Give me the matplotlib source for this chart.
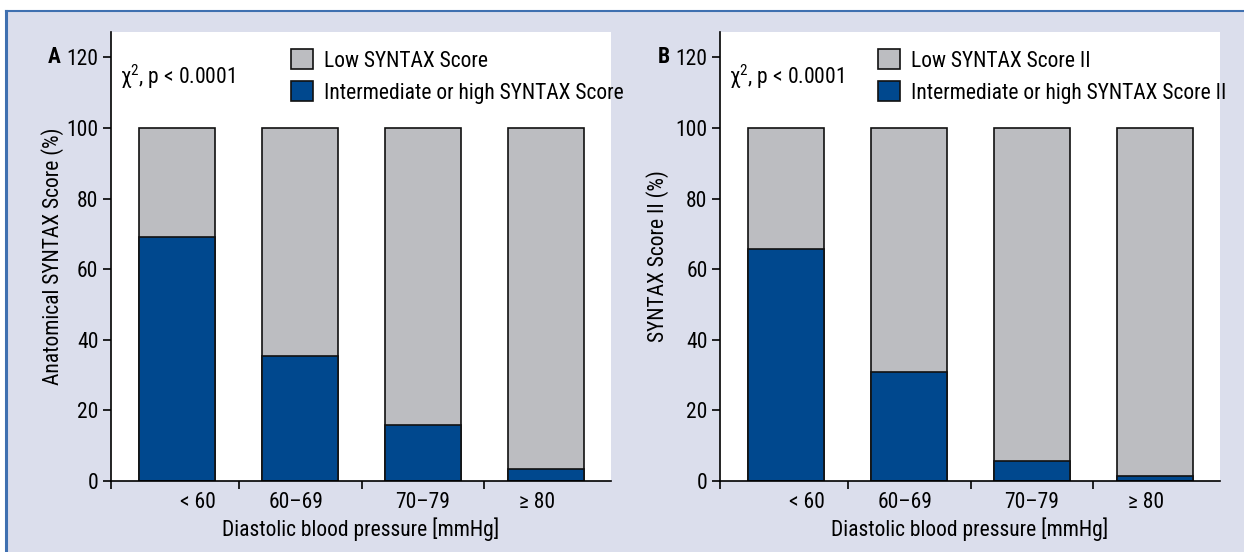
import numpy as np
import matplotlib
matplotlib.use("Agg")
import matplotlib.pyplot as plt
from matplotlib.patches import Patch, Rectangle
from matplotlib.lines import Line2D

fonts = ['Roboto Condensed', 'Archivo Narrow', 'Liberation Sans Narrow', 'DejaVu Sans']
plt.rcParams['font.family'] = fonts
plt.rcParams['mathtext.fontset'] = 'custom'
plt.rcParams['mathtext.rm'] = 'Roboto Condensed'
plt.rcParams['mathtext.it'] = 'Roboto Condensed'

categories = ['< 60', '60\u201369', '70\u201379', '\u2265 80']
high_a = [69.2, 35.4, 15.8, 3.3]
high_b = [65.7, 30.8, 5.7, 1.4]
total = [100, 100, 100, 100]
yticks = [0, 20, 40, 60, 80, 100, 120]

# the category labels sit a little off the bar centres in the original
label_shift = np.array([0.17, -0.03, 0.0, -0.07])

gray = '#bcbdc1'
blue = '#00488e'
bg = '#dbdeec'
frame = '#3f70b0'

fig = plt.figure(figsize=(12.44, 5.52), dpi=100, facecolor='white')
fig.patches.append(Rectangle((6/1244, 0), 1, 1-11/552, transform=fig.transFigure,
                             facecolor=bg, edgecolor='none', zorder=-5))
fig.lines.append(Line2D([6/1244, 1], [1-11/552]*2, transform=fig.transFigure, color=frame, lw=1.5))
fig.lines.append(Line2D([6/1244]*2, [0, 1-11/552], transform=fig.transFigure, color=frame, lw=2.2))

panels = [
    (111/1244, high_a, 'A', 'Anatomical SYNTAX Score (%)',
     ['Low SYNTAX Score', 'Intermediate or high SYNTAX Score'], 0.325, -0.093),
    (720/1244, high_b, 'B', 'SYNTAX Score II (%)',
     ['Low SYNTAX Score II', 'Intermediate or high SYNTAX Score II'], 0.281, -0.102),
]

fs = 15.5
x = np.arange(len(categories))
for left, high, letter, ylab, leg, legx, labx in panels:
    ax = fig.add_axes([left, 71/552, 500/1244, 449/552])
    ax.set_facecolor('white')
    ax.bar(x, total, width=0.62, color=gray, edgecolor='#111111', linewidth=1.2)
    ax.bar(x, high, width=0.62, color=blue, edgecolor='#111111', linewidth=1.2)
    ax.set_xlim(-0.54, 3.53)
    ax.set_ylim(0, 127.2)
    for s in ['top', 'right']:
        ax.spines[s].set_visible(False)
    ax.spines['left'].set_linewidth(1.2)
    ax.spines['bottom'].set_linewidth(1.2)
    ax.set_yticks(yticks)
    ax.set_xticks([-0.54, 0.5, 1.5, 2.5])
    ax.set_xticklabels([])
    ax.set_xticks(x + label_shift, minor=True)
    ax.set_xticklabels(categories, minor=True)
    ax.tick_params(axis='x', which='minor', length=0, pad=8, labelsize=fs)
    ax.tick_params(axis='x', which='major', length=6, width=1.2, direction='out')
    ax.tick_params(axis='y', length=6, width=1.2, labelsize=fs, pad=3)
    ax.set_xlabel('Diastolic blood pressure [mmHg]', fontsize=fs, labelpad=3)
    ax.set_ylabel(ylab, fontsize=fs)
    ax.yaxis.set_label_coords(labx, 0.5)
    ax.text(-0.1, 120, letter, transform=ax.get_yaxis_transform(), fontsize=fs,
            fontweight='bold', ha='right', va='center')
    ax.text(0.018, 0.9, '\u03c7$^{2}$, p < 0.0001', transform=ax.transAxes,
            fontsize=fs, ha='left', va='center')
    handles = [Patch(facecolor=gray, edgecolor='#111111', linewidth=1.2),
               Patch(facecolor=blue, edgecolor='#111111', linewidth=1.2)]
    ax.legend(handles, leg, loc='upper left', bbox_to_anchor=(legx, 1.0),
              frameon=False, fontsize=fs, handlelength=1.05, handleheight=1.05,
              handletextpad=0.5, labelspacing=0.45, borderaxespad=0.4)

fig.savefig('out.png', dpi=100, facecolor='white')
